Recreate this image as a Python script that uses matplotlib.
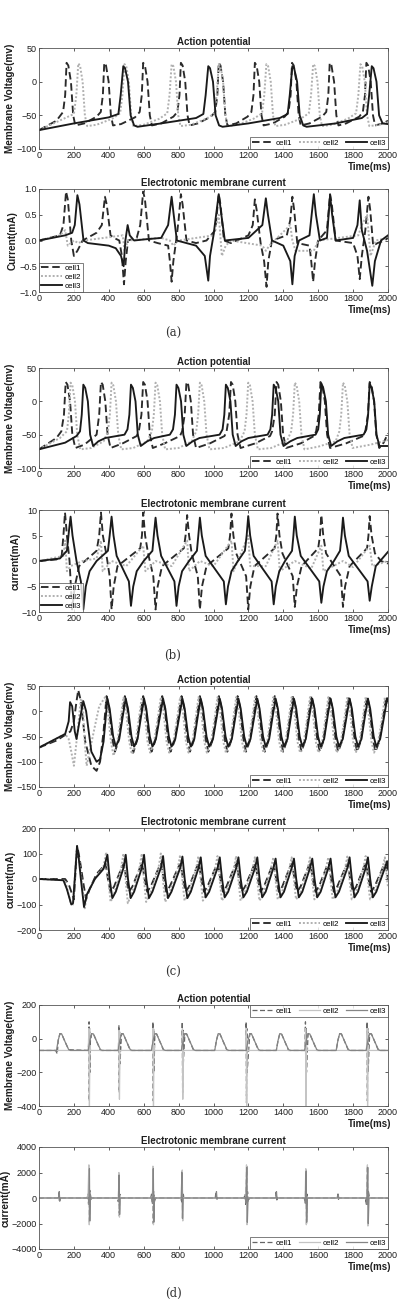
import numpy as np
import matplotlib
matplotlib.use("Agg")
import matplotlib.pyplot as plt

plt.rcParams['font.family'] = ['Liberation Sans', 'DejaVu Sans']

# ---------------- data (time ms : value) ----------------
cells = ["cell1", "cell2", "cell3"]
x_ticks = [0, 200, 400, 600, 800, 1000, 1200, 1400, 1600, 1800, 2000]

# (a) action potential
a_ap_c1 = [(0,-72),(100,-58),(138,-45),(150,-20),(158,28),(168,24),(183,0),(196,-50),(208,-65),(260,-62),(330,-52),(354,-45),(366,-20),(374,28),(384,24),(399,0),(412,-50),(424,-65),(470,-63),(550,-53),(577,-45),(589,-20),(597,28),(607,24),(622,0),(635,-50),(647,-65),(700,-62),(770,-52),(793,-45),(805,-20),(813,28),(823,24),(838,0),(851,-50),(863,-65),(910,-62),(985,-52),(1010,-45),(1022,-20),(1030,28),(1040,24),(1055,0),(1068,-50),(1080,-65),(1130,-62),(1195,-52),(1217,-45),(1229,-20),(1237,28),(1247,24),(1262,0),(1275,-50),(1287,-65),(1340,-62),(1408,-52),(1430,-45),(1442,-20),(1450,28),(1460,24),(1475,0),(1488,-50),(1500,-65),(1550,-62),(1622,-52),(1646,-45),(1658,-20),(1666,28),(1676,24),(1691,0),(1704,-50),(1716,-65),(1760,-62),(1835,-52),(1856,-45),(1868,-20),(1876,28),(1886,24),(1901,0),(1914,-50),(1926,-65),(1970,-62),(2000,-58)]
a_ap_c2 = [(0,-72),(100,-60),(200,-48),(214,-20),(225,27),(235,24),(250,0),(263,-50),(276,-66),(330,-64),(420,-55),(465,-47),(478,-20),(490,26),(500,23),(515,0),(528,-50),(541,-66),(600,-64),(690,-55),(735,-47),(748,-20),(760,26),(770,23),(785,0),(798,-50),(811,-66),(870,-64),(960,-55),(1005,-47),(1018,-20),(1030,26),(1040,23),(1055,0),(1068,-50),(1081,-66),(1140,-64),(1230,-55),(1278,-47),(1291,-20),(1303,26),(1313,23),(1328,0),(1341,-50),(1354,-66),(1410,-64),(1500,-55),(1546,-47),(1559,-20),(1571,26),(1581,23),(1596,0),(1609,-50),(1622,-66),(1680,-64),(1770,-55),(1817,-47),(1830,-20),(1842,26),(1852,23),(1867,0),(1880,-50),(1893,-66),(1950,-64),(2000,-60)]
a_ap_c3 = [(0,-72),(200,-62),(400,-53),(455,-48),(468,-20),(483,23),(493,20),(510,0),(525,-50),(545,-65),(565,-67),(700,-62),(900,-54),(942,-48),(955,-20),(970,23),(980,20),(997,0),(1012,-50),(1032,-65),(1052,-67),(1200,-62),(1380,-54),(1425,-48),(1437,-20),(1452,23),(1462,20),(1479,0),(1494,-50),(1514,-65),(1534,-67),(1700,-62),(1850,-54),(1880,-48),(1892,-20),(1907,23),(1917,20),(1934,0),(1949,-50),(1969,-62),(2000,-63)]

# (a) electrotonic current
a_cur_c1 = [(0,0),(120,0.1),(140,0.3),(155,0.95),(165,0.8),(185,0.0),(200,-0.3),(220,-0.2),(250,0.0),(330,0.15),(360,0.3),(378,0.85),(388,0.7),(410,0.1),(430,0.05),(460,0.0),(475,-0.3),(487,-0.85),(497,-0.4),(510,0.0),(560,0.05),(580,0.3),(597,0.95),(607,0.8),(630,0.0),(680,-0.05),(740,-0.1),(750,-0.4),(760,-0.8),(770,-0.4),(790,0.1),(800,0.4),(813,0.9),(823,0.7),(845,0.0),(900,-0.05),(960,0.0),(1010,0.2),(1030,0.9),(1040,0.7),(1060,0.0),(1100,-0.05),(1200,0.1),(1225,0.3),(1237,0.8),(1247,0.6),(1270,-0.05),(1290,-0.4),(1304,-0.9),(1314,-0.4),(1335,0.0),(1420,0.1),(1440,0.4),(1452,0.85),(1462,0.6),(1480,-0.05),(1550,-0.1),(1560,-0.4),(1571,-0.8),(1582,-0.4),(1600,0.0),(1650,0.2),(1668,0.9),(1678,0.7),(1700,0.0),(1800,-0.05),(1825,-0.3),(1838,-0.75),(1850,-0.3),(1870,0.2),(1888,0.85),(1898,0.6),(1915,-0.1),(1940,-0.05),(1980,0.0),(2000,0.05)]
a_cur_c2 = [(0,0),(120,0.1),(150,0.2),(165,-0.1),(200,0.0),(225,-0.05),(260,0.0),(370,0.05),(480,0.1),(490,-0.2),(510,0.0),(700,0.05),(750,0.0),(770,-0.1),(800,0.0),(1000,0.1),(1030,0.5),(1048,-0.3),(1070,-0.1),(1100,0.0),(1280,-0.1),(1300,-0.2),(1320,-0.1),(1440,0.3),(1452,0.0),(1470,-0.2),(1550,-0.2),(1575,-0.2),(1600,0.0),(1830,0.1),(1850,0.3),(1880,0.5),(1900,-0.3),(1930,0.0),(2000,0.05)]
a_cur_c3 = [(0,0),(150,0.1),(190,0.15),(205,0.3),(220,0.88),(232,0.7),(255,0.0),(280,-0.05),(400,-0.1),(440,-0.15),(470,-0.3),(485,-0.5),(495,0.0),(508,0.3),(520,0.1),(545,0.0),(600,0.02),(700,0.05),(740,0.3),(760,0.85),(772,0.5),(790,0.0),(900,-0.1),(950,-0.3),(970,-0.78),(980,-0.3),(1000,0.1),(1030,0.9),(1045,0.5),(1065,0.0),(1200,0.05),(1280,0.3),(1300,0.82),(1312,0.5),(1335,0.0),(1400,-0.1),(1440,-0.4),(1452,-0.85),(1465,-0.3),(1490,0.0),(1550,0.1),(1575,0.9),(1587,0.5),(1610,0.0),(1650,0.05),(1668,0.88),(1680,0.5),(1700,0.0),(1800,0.05),(1825,0.3),(1838,0.78),(1850,0.2),(1880,-0.2),(1910,-0.88),(1925,-0.4),(1960,0.0),(2000,0.1)]

# (b) action potential
b_ap_c1 = [(0,-72),(100,-55),(128,-45),(143,-20),(153,29),(163,25),(178,0),(191,-50),(208,-70),(260,-65),(330,-50),(345,-20),(355,29),(365,25),(380,0),(393,-50),(410,-70),(480,-63),(560,-52),(572,-45),(587,-20),(597,29),(607,25),(622,0),(635,-50),(652,-70),(720,-63),(808,-52),(820,-45),(835,-20),(845,29),(855,25),(870,0),(883,-50),(900,-70),(980,-63),(1063,-52),(1075,-45),(1090,-20),(1100,29),(1110,25),(1125,0),(1138,-50),(1155,-70),(1240,-63),(1324,-52),(1336,-45),(1351,-20),(1361,29),(1371,25),(1386,0),(1399,-50),(1416,-70),(1500,-63),(1576,-52),(1588,-45),(1603,-20),(1613,29),(1623,25),(1638,0),(1651,-50),(1668,-70),(1760,-63),(1858,-52),(1870,-45),(1885,-20),(1895,29),(1905,25),(1920,0),(1933,-50),(1950,-70),(1975,-62),(2000,-48)]
b_ap_c2 = [(0,-72),(120,-55),(160,-45),(171,-20),(181,28),(191,24),(206,0),(219,-50),(236,-72),(300,-70),(370,-60),(395,-45),(406,-20),(416,28),(426,24),(441,0),(454,-50),(471,-72),(540,-70),(620,-60),(647,-45),(658,-20),(668,28),(678,24),(693,0),(706,-50),(723,-72),(800,-70),(875,-60),(901,-45),(912,-20),(922,28),(932,24),(947,0),(960,-50),(977,-72),(1060,-70),(1150,-60),(1178,-45),(1189,-20),(1199,28),(1209,24),(1224,0),(1237,-50),(1254,-72),(1330,-70),(1420,-60),(1445,-45),(1456,-20),(1466,28),(1476,24),(1491,0),(1504,-50),(1521,-72),(1600,-68),(1700,-60),(1721,-45),(1732,-20),(1742,28),(1752,24),(1767,0),(1780,-50),(1797,-70),(1900,-65),(2000,-58)]
b_ap_c3 = [(0,-72),(150,-62),(215,-52),(235,-45),(245,-20),(254,25),(265,20),(280,0),(293,-50),(310,-67),(340,-60),(380,-55),(490,-50),(507,-42),(518,-20),(527,25),(538,20),(553,0),(566,-50),(583,-67),(620,-60),(660,-55),(750,-50),(768,-42),(779,-20),(788,25),(799,20),(814,0),(827,-50),(844,-67),(880,-60),(920,-55),(1035,-50),(1052,-42),(1062,-20),(1071,25),(1082,20),(1097,0),(1110,-50),(1127,-67),(1160,-60),(1200,-55),(1310,-50),(1326,-42),(1336,-20),(1345,25),(1356,20),(1371,0),(1384,-50),(1401,-67),(1440,-60),(1480,-55),(1585,-50),(1600,-42),(1609,-20),(1618,27),(1629,20),(1644,0),(1657,-50),(1674,-67),(1710,-60),(1750,-55),(1860,-50),(1876,-42),(1886,-20),(1895,27),(1906,20),(1921,0),(1934,-50),(1951,-67),(2000,-67)]

# (b) electrotonic current
b_cur_c1 = [(0,0),(100,0.3),(130,1),(140,5),(149,9.5),(160,5),(175,0),(190,-9.5),(205,-5),(230,-1),(330,2),(345,5),(355,9.5),(366,5),(385,1.5),(405,-3),(416,-9.5),(428,-5),(450,-1),(580,2.5),(590,5),(597,9.5),(608,5),(625,1.5),(655,-3),(668,-9.5),(680,-5),(705,-1),(830,2.5),(840,5),(849,9),(860,5),(875,1.5),(910,-3),(922,-9.5),(934,-5),(960,-1),(1085,2.5),(1095,5),(1103,9.3),(1114,5),(1130,1.5),(1187,-3),(1199,-9.5),(1211,-5),(1235,-1),(1350,2.5),(1360,5),(1367,9.3),(1378,5),(1395,1.5),(1454,-3),(1466,-9),(1478,-5),(1505,-1),(1600,2.5),(1610,5),(1618,9),(1629,5),(1645,1.5),(1730,-3),(1742,-9),(1754,-5),(1780,-1),(1880,2.5),(1888,5),(1895,8.8),(1906,5),(1925,1.5),(1960,0),(2000,-0.5)]
b_cur_c2 = [(0,0),(140,1),(150,4),(160,-2),(181,-1),(250,0),(330,0.5),(355,4),(365,-2),(416,0),(500,-1),(597,3),(610,-2),(668,0),(760,-1),(849,4),(860,-2),(922,0),(1000,-1),(1103,4),(1115,-2),(1199,5),(1210,-1),(1300,-1),(1367,4),(1380,-2),(1466,0),(1560,-1.5),(1618,3),(1630,-2),(1742,0),(1800,-1.2),(1895,3),(1910,-1),(2000,0)]
b_cur_c3 = [(0,0),(120,0.5),(160,2),(172,6),(181,8.7),(192,5),(215,0),(240,-4),(254,-9.5),(268,-5),(290,-2),(330,0),(395,2),(405,5),(416,8.7),(427,5),(445,1),(515,-4),(527,-8.8),(540,-5),(560,-2),(600,0),(650,2),(658,5),(668,8.5),(679,5),(700,1),(776,-4),(788,-8.8),(800,-5),(820,-2),(860,0),(905,2),(913,5),(922,8.5),(933,5),(955,1),(1059,-4),(1071,-8.5),(1083,-5),(1103,-2),(1140,0),(1180,2),(1190,5),(1199,8.8),(1210,5),(1230,1),(1333,-4),(1345,-8.5),(1357,-5),(1377,-2),(1410,0),(1450,2),(1458,5),(1466,8.7),(1477,5),(1500,1),(1606,-4),(1618,-8.2),(1630,-5),(1650,-2),(1690,0),(1725,2),(1734,5),(1742,8.5),(1753,5),(1775,1),(1883,-4),(1895,-7.8),(1907,-5),(1930,-1),(2000,1.8)]

# (c) action potential
c_ap_c1 = [(0,-72),(100,-58),(150,-47),(180,-40),(200,-20),(215,20),(225,42),(240,20),(265,-60),(300,-108),(330,-118),(350,-100),(370,-40),(387,30),(400,10),(420,-55),(435,-80),(455,-60),(475,-10),(492,30),(505,10),(525,-55),(540,-82),(560,-60),(580,-10),(597,30),(610,10),(630,-55),(645,-80),(665,-60),(688,-10),(706,30),(719,10),(739,-55),(754,-80),(776,-60),(799,-10),(817,30),(830,10),(850,-55),(865,-80),(885,-60),(905,-10),(922,30),(935,10),(955,-55),(970,-80),(992,-60),(1014,-10),(1031,30),(1044,10),(1064,-55),(1079,-80),(1100,-60),(1121,-10),(1138,30),(1151,10),(1171,-55),(1186,-80),(1207,-60),(1229,-10),(1246,30),(1259,10),(1279,-55),(1294,-80),(1314,-60),(1334,-10),(1351,30),(1364,10),(1384,-55),(1399,-80),(1419,-60),(1439,-10),(1456,30),(1469,10),(1489,-55),(1504,-80),(1524,-60),(1544,-10),(1561,30),(1574,10),(1594,-55),(1609,-80),(1629,-60),(1649,-10),(1666,30),(1679,10),(1699,-55),(1714,-80),(1736,-60),(1758,-10),(1775,30),(1788,10),(1808,-55),(1823,-80),(1843,-60),(1863,-10),(1880,30),(1893,10),(1913,-55),(1928,-80),(1950,-60),(1973,-10),(1990,30),(2000,20)]
c_ap_c2 = [(0,-72),(150,-45),(170,-55),(185,-80),(200,-108),(215,-60),(230,-10),(240,25),(250,20),(262,-60),(273,-108),(290,-80),(320,-30),(345,10),(379,28),(392,8),(412,-60),(427,-88),(447,-65),(467,-15),(484,28),(497,8),(517,-60),(532,-85),(552,-65),(572,-15),(589,28),(602,8),(622,-60),(637,-82),(657,-65),(680,-15),(698,28),(711,8),(731,-60),(746,-82),(768,-65),(791,-15),(809,28),(822,8),(842,-60),(857,-82),(877,-65),(897,-15),(914,28),(927,8),(947,-60),(962,-82),(984,-65),(1006,-15),(1023,28),(1036,8),(1056,-60),(1071,-82),(1092,-65),(1113,-15),(1130,28),(1143,8),(1163,-60),(1178,-82),(1199,-65),(1221,-15),(1238,28),(1251,8),(1271,-60),(1286,-82),(1306,-65),(1326,-15),(1343,28),(1356,8),(1376,-60),(1391,-82),(1411,-65),(1431,-15),(1448,28),(1461,8),(1481,-60),(1496,-82),(1516,-65),(1536,-15),(1553,28),(1566,8),(1586,-60),(1601,-82),(1621,-65),(1641,-15),(1658,28),(1671,8),(1691,-60),(1706,-82),(1728,-65),(1750,-15),(1767,28),(1780,8),(1800,-60),(1815,-82),(1835,-65),(1855,-15),(1872,28),(1885,8),(1905,-60),(1920,-82),(1942,-65),(1965,-15),(1982,28),(2000,10)]
c_ap_c3 = [(0,-72),(150,-45),(170,-20),(178,18),(190,10),(205,-40),(215,-55),(232,-20),(254,20),(270,0),(300,-80),(330,-100),(350,-95),(370,-60),(392,25),(405,5),(425,-50),(440,-70),(460,-55),(480,-10),(497,25),(510,5),(530,-50),(545,-70),(565,-55),(585,-10),(602,25),(615,5),(635,-50),(650,-70),(670,-55),(693,-10),(711,25),(724,5),(744,-50),(759,-70),(781,-55),(804,-10),(822,25),(835,5),(855,-50),(870,-70),(890,-55),(910,-10),(927,25),(940,5),(960,-50),(975,-70),(997,-55),(1019,-10),(1036,25),(1049,5),(1069,-50),(1084,-70),(1105,-55),(1126,-10),(1143,25),(1156,5),(1176,-50),(1191,-70),(1212,-55),(1234,-10),(1251,25),(1264,5),(1284,-50),(1299,-70),(1319,-55),(1339,-10),(1356,25),(1369,5),(1389,-50),(1404,-70),(1424,-55),(1444,-10),(1461,25),(1474,5),(1494,-50),(1509,-70),(1529,-55),(1549,-10),(1566,25),(1579,5),(1599,-50),(1614,-70),(1634,-55),(1654,-10),(1671,25),(1684,5),(1704,-50),(1719,-70),(1741,-55),(1763,-10),(1780,25),(1793,5),(1813,-50),(1828,-70),(1848,-55),(1868,-10),(1885,25),(1898,5),(1918,-50),(1933,-70),(1955,-55),(1978,-10),(1995,25),(2000,20)]

# (c) electrotonic current
c_cur_c1 = [(0,0),(150,0),(170,-20),(190,-60),(200,-80),(212,60),(222,120),(235,70),(255,-20),(270,-80),(290,-40),(330,20),(370,50),(382,60),(395,0),(410,-50),(430,-30),(477,50),(487,60),(500,0),(515,-50),(535,-30),(582,50),(592,60),(605,0),(620,-50),(640,-30),(690,50),(701,60),(714,0),(729,-50),(749,-30),(801,50),(812,60),(825,0),(840,-50),(860,-30),(906,50),(917,60),(930,0),(945,-50),(965,-30),(1015,50),(1026,60),(1039,0),(1054,-50),(1074,-30),(1122,50),(1133,60),(1146,0),(1161,-50),(1181,-30),(1230,50),(1241,60),(1254,0),(1269,-50),(1289,-30),(1335,50),(1346,60),(1359,0),(1374,-50),(1394,-30),(1440,50),(1451,60),(1464,0),(1479,-50),(1499,-30),(1545,50),(1556,60),(1569,0),(1584,-50),(1604,-30),(1650,50),(1661,60),(1674,0),(1689,-50),(1709,-30),(1759,50),(1770,60),(1783,0),(1798,-50),(1818,-30),(1864,50),(1875,60),(1888,0),(1903,-50),(1923,-30),(1974,50),(1985,60),(2000,0)]
c_cur_c2 = [(0,0),(150,-5),(180,-90),(195,-100),(205,0),(215,110),(230,80),(262,-115),(275,-60),(320,0),(370,50),(385,105),(397,0),(410,-90),(430,-60),(470,40),(484,100),(496,0),(509,-95),(530,-60),(575,40),(589,100),(601,0),(614,-90),(635,-60),(684,40),(698,100),(710,0),(723,-90),(744,-60),(795,40),(809,95),(821,0),(834,-85),(855,-60),(900,40),(914,90),(926,0),(939,-85),(960,-60),(1009,40),(1023,90),(1035,0),(1048,-85),(1069,-60),(1116,40),(1130,90),(1142,0),(1155,-85),(1176,-60),(1224,40),(1238,88),(1250,0),(1263,-85),(1284,-60),(1329,40),(1343,85),(1355,0),(1368,-80),(1389,-60),(1434,40),(1448,85),(1460,0),(1473,-80),(1494,-60),(1539,40),(1553,85),(1565,0),(1578,-80),(1599,-60),(1644,40),(1658,85),(1670,0),(1683,-80),(1704,-60),(1753,40),(1767,88),(1779,0),(1792,-80),(1813,-60),(1858,40),(1872,90),(1884,0),(1897,-80),(1918,-60),(1968,40),(1982,85),(1994,0),(2000,-30)]
c_cur_c3 = [(0,0),(140,-5),(160,-40),(185,-100),(195,-95),(210,50),(218,130),(225,100),(240,0),(258,-110),(275,-60),(320,0),(370,40),(392,95),(405,0),(420,-75),(440,-50),(485,45),(497,95),(510,0),(525,-75),(545,-50),(590,45),(602,95),(615,0),(630,-75),(650,-50),(699,45),(711,90),(724,0),(739,-75),(759,-50),(810,45),(822,88),(835,0),(850,-75),(870,-50),(915,45),(927,85),(940,0),(955,-72),(975,-50),(1024,45),(1036,85),(1049,0),(1064,-72),(1084,-50),(1131,45),(1143,85),(1156,0),(1171,-72),(1191,-50),(1239,45),(1251,85),(1264,0),(1279,-72),(1299,-50),(1344,45),(1356,80),(1369,0),(1384,-72),(1404,-50),(1449,45),(1461,80),(1474,0),(1489,-72),(1509,-50),(1554,45),(1566,80),(1579,0),(1594,-72),(1614,-50),(1659,45),(1671,80),(1684,0),(1699,-72),(1719,-50),(1768,45),(1780,85),(1793,0),(1808,-72),(1828,-50),(1873,45),(1885,85),(1898,0),(1913,-72),(1933,-50),(1983,45),(1995,70),(2000,40)]

# (d) action potential
d_ap_c1 = [(0,-70),(95,-70),(105,-90),(110,-10),(120,30),(130,28),(150,-20),(170,-65),(282,-70),(285,-20),(287,100),(288,-370),(290,60),(292,-200),(294,-20),(302,30),(312,28),(332,-20),(352,-70),(455,-70),(458,80),(460,-320),(462,40),(464,-150),(473,30),(483,28),(503,-20),(523,-70),(650,-70),(653,100),(655,-370),(657,60),(659,-200),(664,30),(674,28),(694,-20),(714,-70),(818,-70),(821,100),(823,-320),(825,50),(827,-150),(836,30),(846,28),(866,-20),(886,-70),(1007,-70),(1017,-10),(1027,30),(1037,28),(1057,-20),(1077,-70),(1184,-70),(1187,100),(1189,-380),(1191,60),(1193,-200),(1208,30),(1218,28),(1238,-20),(1258,-70),(1360,-70),(1370,-10),(1380,30),(1390,28),(1410,-20),(1430,-70),(1524,-70),(1527,100),(1529,-370),(1531,60),(1533,-200),(1542,30),(1552,28),(1572,-20),(1592,-70),(1703,-70),(1713,-10),(1723,30),(1733,28),(1753,-20),(1773,-70),(1877,-70),(1880,100),(1882,-370),(1884,60),(1886,-200),(1895,30),(1905,28),(1925,-20),(1945,-70),(2000,-70)]
d_ap_c2 = [(0,-70),(282,-70),(286,60),(289,-400),(292,-40),(296,-70),(455,-70),(459,50),(461,-360),(464,-70),(650,-70),(654,60),(656,-400),(659,-40),(663,-70),(818,-70),(822,60),(824,-360),(827,-70),(1184,-70),(1188,60),(1190,-400),(1193,-40),(1197,-70),(1524,-70),(1528,60),(1530,-400),(1533,-40),(1537,-70),(1877,-70),(1881,60),(1883,-400),(1886,-40),(1890,-70),(2000,-70)]
d_ap_c3 = [(0,-70),(100,-70),(110,-10),(120,30),(130,28),(150,-20),(170,-65),(180,-70),(282,-70),(292,-10),(302,30),(312,28),(332,-20),(352,-65),(362,-70),(453,-70),(463,-10),(473,30),(483,28),(503,-20),(523,-65),(533,-70),(644,-70),(654,-10),(664,30),(674,28),(694,-20),(714,-65),(724,-70),(816,-70),(826,-10),(836,30),(846,28),(866,-20),(886,-65),(896,-70),(1007,-70),(1017,-10),(1027,30),(1037,28),(1057,-20),(1077,-65),(1087,-70),(1188,-70),(1198,-10),(1208,30),(1218,28),(1238,-20),(1258,-65),(1268,-70),(1360,-70),(1370,-10),(1380,30),(1390,28),(1410,-20),(1430,-65),(1440,-70),(1522,-70),(1532,-10),(1542,30),(1552,28),(1572,-20),(1592,-65),(1602,-70),(1703,-70),(1713,-10),(1723,30),(1733,28),(1753,-20),(1773,-65),(1783,-70),(1875,-70),(1885,-10),(1895,30),(1905,28),(1925,-20),(1945,-65),(1955,-70),(2000,-70)]

# (d) electrotonic current
d_cur_c1 = [(0,0),(110,0),(114,400),(117,-200),(120,100),(124,0),(275,0),(280,300),(284,-500),(287,2400),(289,-2000),(291,600),(294,-300),(300,0),(450,0),(455,-300),(458,1900),(460,-1400),(463,300),(468,0),(640,0),(645,300),(650,-500),(653,2400),(655,-2000),(657,500),(661,-300),(668,0),(812,0),(818,-300),(821,2100),(823,-1700),(826,300),(832,0),(1010,0),(1014,450),(1018,-100),(1022,0),(1175,0),(1180,300),(1185,-500),(1190,2500),(1192,-2000),(1195,500),(1199,-300),(1206,0),(1355,0),(1359,450),(1363,-150),(1367,0),(1520,0),(1526,-400),(1530,2200),(1533,-2000),(1536,300),(1542,0),(1709,0),(1713,300),(1716,-100),(1720,0),(1870,0),(1876,-500),(1882,2500),(1885,-2100),(1888,500),(1894,0),(2000,0)]
d_cur_c2 = [(0,0),(280,0),(286,2600),(288,-2100),(291,0),(455,0),(458,2000),(461,-1500),(464,0),(650,0),(653,2500),(656,-2100),(659,0),(818,0),(821,2200),(824,-1800),(827,0),(1185,0),(1189,2600),(1192,-2100),(1195,0),(1525,0),(1529,2300),(1532,-2100),(1535,0),(1878,0),(1882,2600),(1885,-2200),(1888,0),(2000,0)]
d_cur_c3 = [(0,0),(112,0),(116,500),(119,-250),(122,0),(282,0),(286,-400),(289,2300),(291,-1800),(294,300),(299,0),(456,0),(459,1800),(462,-1300),(465,0),(648,0),(652,-400),(655,2300),(658,-1900),(662,0),(815,0),(819,2000),(822,-1600),(826,0),(1013,0),(1017,500),(1020,-100),(1023,0),(1182,0),(1186,-400),(1191,2400),(1194,-1900),(1198,0),(1357,0),(1361,500),(1364,-100),(1368,0),(1522,0),(1527,-400),(1531,2100),(1534,-1900),(1538,0),(1710,0),(1714,300),(1718,0),(1875,0),(1879,-500),(1884,2400),(1887,-2000),(1891,0),(2000,0)]

# ---------------- figure ----------------
W, H = 407, 1299
fig = plt.figure(figsize=(W / 100, H / 100), dpi=100)
fig.patch.set_facecolor("white")

def add_axes(top, bottom):
    return fig.add_axes([39 / W, 1 - bottom / H, 349 / W, (bottom - top) / H])

styles_bw = [dict(color="#2a2a2a", ls=(0, (4, 2)), lw=1.35),
             dict(color="#b0b0b0", ls=(0, (1, 1)), lw=1.4),
             dict(color="#1a1a1a", ls="-", lw=1.35)]
styles_d = [dict(color="#666666", ls=(0, (4, 2)), lw=0.9),
            dict(color="#c4c4c4", ls="-", lw=0.9),
            dict(color="#858585", ls="-", lw=0.9)]

TXT = "#1e1e1e"

def panel(top, bottom, series, styles, title, ylabel, ylim, yticks, legend):
    ax = add_axes(top, bottom)
    for pts, st, name in zip(series, styles, cells):
        arr = np.array(pts, dtype=float)
        ax.plot(arr[:, 0], arr[:, 1], label=name, **st)
    ax.set_xlim(0, 2000)
    ax.set_ylim(*ylim)
    ax.set_xticks(x_ticks)
    ax.set_yticks(yticks)
    ax.tick_params(direction="in", top=True, right=True, length=2.5, width=0.5,
                   labelsize=6.5, pad=1.5, colors=TXT)
    for s in ax.spines.values():
        s.set_linewidth(0.6)
        s.set_color("#555555")
    ax.set_title(title, fontsize=7, fontweight="bold", pad=2.5, color=TXT)
    ax.set_ylabel(ylabel, fontsize=7.2, fontweight="bold", labelpad=1, color=TXT)
    ax.set_xlabel("Time(ms)", fontsize=7, fontweight="bold", color=TXT)
    ax.xaxis.set_label_coords(1.01, -0.13)
    ax.xaxis.label.set_ha("right")
    common = dict(fontsize=5.8, frameon=True, fancybox=False, borderaxespad=0,
                  handlelength=2.6, handletextpad=0.3, borderpad=0.25)
    if legend == "lr":
        lg = ax.legend(loc="lower right", ncol=3, columnspacing=0.9, **common)
    elif legend == "ur":
        lg = ax.legend(loc="upper right", ncol=3, columnspacing=0.9, **common)
    else:
        lg = ax.legend(loc="lower left", ncol=1, labelspacing=0.15, **common)
    lg.get_frame().set_edgecolor("#444444")
    lg.get_frame().set_linewidth(0.6)
    return ax

panel(48, 149, [a_ap_c1, a_ap_c2, a_ap_c3], styles_bw, "Action potential",
      "Membrane Voltage(mv)", (-100, 50), [-100, -50, 0, 50], "lr")
panel(189, 292, [a_cur_c1, a_cur_c2, a_cur_c3], styles_bw, "Electrotonic membrane current",
      "Current(mA)", (-1, 1), [-1, -0.5, 0, 0.5, 1], "ll")
panel(368, 468, [b_ap_c1, b_ap_c2, b_ap_c3], styles_bw, "Action potential",
      "Membrane Voltage(mv)", (-100, 50), [-100, -50, 0, 50], "lr")
panel(510, 612, [b_cur_c1, b_cur_c2, b_cur_c3], styles_bw, "Electrotonic membrane current",
      "current(mA)", (-10, 10), [-10, -5, 0, 5, 10], "ll")
panel(686, 787, [c_ap_c1, c_ap_c2, c_ap_c3], styles_bw, "Action potential",
      "Membrane Voltage(mv)", (-150, 50), [-150, -100, -50, 0, 50], "lr")
panel(828, 930, [c_cur_c1, c_cur_c2, c_cur_c3], styles_bw, "Electrotonic membrane current",
      "current(mA)", (-200, 200), [-200, -100, 0, 100, 200], "lr")
panel(1005, 1106, [d_ap_c1, d_ap_c2, d_ap_c3], styles_d, "Action potential",
      "Membrane Voltage(mv)", (-400, 200), [-400, -200, 0, 200], "ur")
panel(1147, 1249, [d_cur_c1, d_cur_c2, d_cur_c3], styles_d, "Electrotonic membrane current",
      "current(mA)", (-4000, 4000), [-4000, -2000, 0, 2000, 4000], "lr")

for lab, y in [("(a)", 333), ("(b)", 655), ("(c)", 972), ("(d)", 1293)]:
    fig.text(173 / W, 1 - y / H, lab, ha="center", va="center", fontsize=8.5,
             family=["DejaVu Serif"], color="#333333")

fig.savefig("out.png", dpi=100, facecolor="white")
